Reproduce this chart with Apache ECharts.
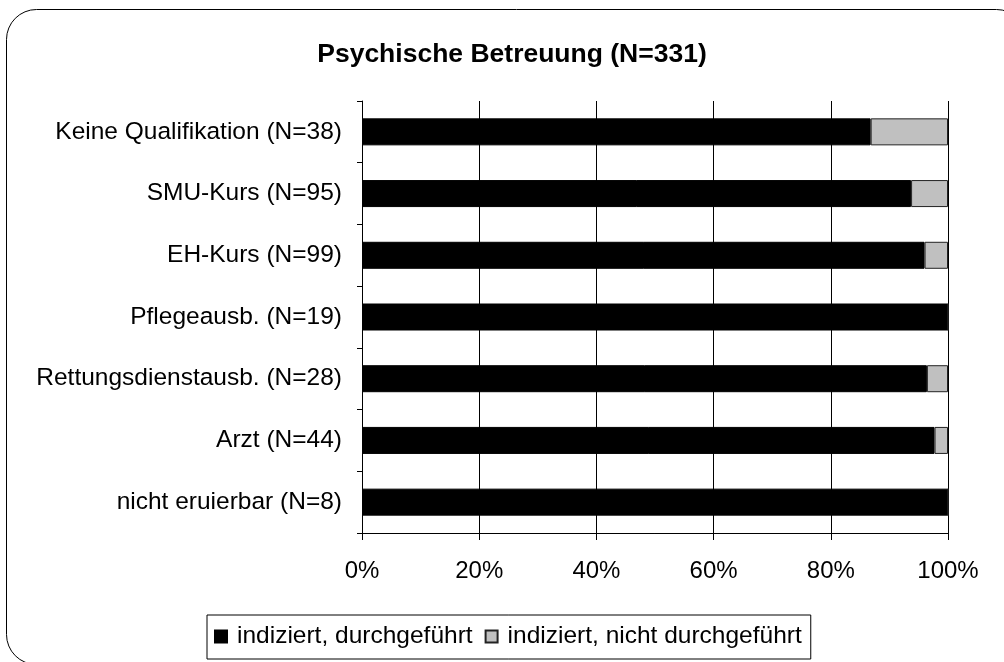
<!DOCTYPE html>
<html>
<head>
<meta charset="utf-8">
<script src="https://cdn.jsdelivr.net/npm/echarts@6/dist/echarts.min.js"></script>
<style>
    html, body { margin: 0; padding: 0; background: #fff; }
    #chart { width: 1004px; height: 662px; }
</style>
</head>
<body>
<div id="chart"></div>
<script>
// Kategorien (von oben nach unten)
const categories = [
    'Keine Qualifikation (N=38)',
    'SMU-Kurs (N=95)',
    'EH-Kurs (N=99)',
    'Pflegeausb. (N=19)',
    'Rettungsdienstausb. (N=28)',
    'Arzt (N=44)',
    'nicht eruierbar (N=8)'
];
// Anteile in %
const durchgefuehrt = [86.8, 93.7, 96.0, 100, 96.4, 97.7, 100];
const nichtDurchgefuehrt = [13.2, 6.3, 4.0, 0, 3.6, 2.3, 0];
const seriesNames = ['indiziert, durchgeführt', 'indiziert, nicht durchgeführt'];

const font = "'Liberation Sans', Arial, sans-serif";

let myChart = echarts.init(document.getElementById('chart'));

let option = {
    animation: false,
    title: {
        text: 'Psychische Betreuung (N=331)',
        left: 507,
        top: 36,
        textAlign: 'center',
        textStyle: {
            fontFamily: font,
            fontWeight: 'bold',
            fontSize: 26.5,
            color: '#000'
        }
    },
    // Rahmen um das Diagramm
    graphic: [
        {
            type: 'rect',
            shape: { x: 6.5, y: 9.5, width: 1020, height: 655, r: 30 },
            style: { fill: 'none', stroke: '#000', lineWidth: 1 },
            silent: true,
            z: -1
        }
    ],
    legend: {
        data: seriesNames,
        left: 207,
        top: 615,
        orient: 'horizontal',
        itemWidth: 12,
        itemHeight: 12,
        itemGap: 12,
        padding: [9, 9, 10, 7],
        borderColor: '#000',
        borderWidth: 1,
        icon: 'rect',
        textStyle: {
            fontFamily: font,
            fontSize: 24.5,
            color: '#000',
            padding: [0, 0, 0, 5]
        }
    },
    grid: {
        left: 362,
        right: 56,
        top: 101,
        bottom: 129,
        containLabel: false
    },
    xAxis: {
        type: 'value',
        min: 0,
        max: 100,
        interval: 20,
        axisLine: { show: true, lineStyle: { color: '#000', width: 1 } },
        axisTick: { show: true, length: 7, lineStyle: { color: '#000' } },
        splitLine: { show: true, lineStyle: { color: '#000', width: 1 } },
        axisLabel: {
            formatter: '{value}%',
            margin: 26,
            fontFamily: font,
            fontSize: 24,
            color: '#000'
        }
    },
    yAxis: {
        type: 'category',
        inverse: true,
        data: categories,
        axisLine: { show: true, lineStyle: { color: '#000', width: 1 } },
        axisTick: { show: true, length: 5, alignWithLabel: false, lineStyle: { color: '#000' } },
        splitLine: { show: false },
        axisLabel: {
            margin: 20,
            fontFamily: font,
            fontSize: 24.5,
            color: '#000'
        }
    },
    series: [
        {
            name: seriesNames[0],
            type: 'bar',
            stack: 'gesamt',
            barWidth: 27,
            data: durchgefuehrt,
            itemStyle: { color: '#000', borderColor: '#000', borderWidth: 1 }
        },
        {
            name: seriesNames[1],
            type: 'bar',
            stack: 'gesamt',
            barWidth: 27,
            data: nichtDurchgefuehrt,
            itemStyle: { color: '#c0c0c0', borderColor: '#222', borderWidth: 1 }
        }
    ]
};
myChart.setOption(option);
</script>
</body>
</html>
